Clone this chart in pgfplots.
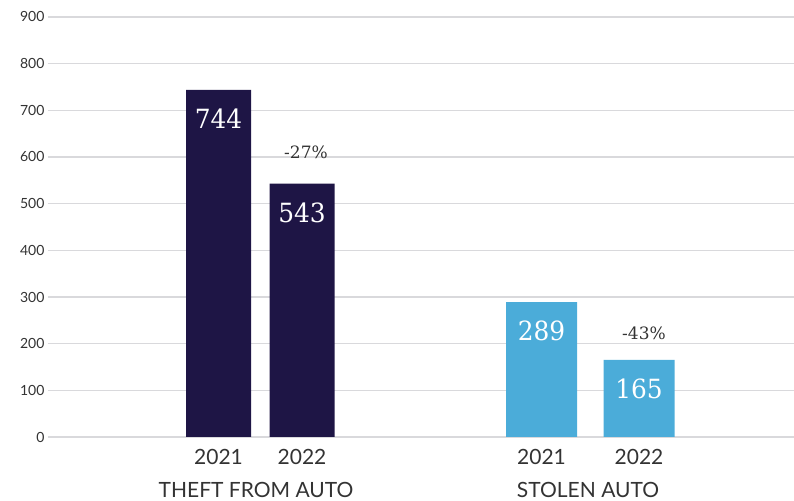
\documentclass[border=0pt]{standalone}
\usepackage{pgfplots}
\pgfplotsset{compat=1.18}
\usepackage{graphicx}
\usepackage{fontspec}
\setmainfont{Lato}
\newfontfamily\slabfont{DejaVu Serif}
\definecolor{navy}{HTML}{1E1545}
\definecolor{lblue}{HTML}{4BACD9}
\definecolor{gridc}{HTML}{D9D9DC}
\definecolor{txt}{HTML}{333333}
\begin{document}
\begin{tikzpicture}
\begin{axis}[
  x=1pt, y=0.46667pt,
  xmin=48, xmax=794, ymin=0, ymax=900,
  axis line style={draw=none},
  tick style={draw=none},
  ytick={0,100,...,900},
  ymajorgrids,
  grid style={gridc, line width=1.3pt},
  xtick={218.5,302,541.5,639},
  xticklabels={2021,2022,2021,2022},
  x tick label style={font=\fontsize{21}{24}\selectfont, text=txt, yshift=-9pt},
  y tick label style={font=\fontsize{14}{16}\selectfont, text=txt},
  /pgf/number format/assume math mode=true,
  scaled y ticks=false,
  clip=false,
]
\addplot[ybar, bar width=65, fill=navy, draw=none,
  nodes near coords={\scalebox{1.08}[1.15]{\pgfmathprintnumber{\pgfplotspointmeta}}},
  nodes near coords style={font=\slabfont\fontsize{23}{23}\selectfont, text=white, anchor=center, yshift=-29pt}]
  coordinates {(218.5,744) (302,543)};
\addplot[ybar, bar width=71, fill=lblue, draw=none,
  nodes near coords={\scalebox{1.08}[1.15]{\pgfmathprintnumber{\pgfplotspointmeta}}},
  nodes near coords style={font=\slabfont\fontsize{23}{23}\selectfont, text=white, anchor=center, yshift=-29pt}]
  coordinates {(541.5,289) (639,165)};
\addplot[draw=none, mark=none, nodes near coords, point meta=explicit symbolic,
  nodes near coords style={font=\slabfont\fontsize{17}{17}\selectfont, text=txt, anchor=center}]
  coordinates {(306,611) [-27\%] (644,223) [-43\%]};
\node[font=\fontsize{21}{24}\selectfont, text=txt] at (axis cs:256,-114) {THEFT FROM AUTO};
\node[font=\fontsize{21}{24}\selectfont, text=txt] at (axis cs:588,-114) {STOLEN AUTO};
\coordinate (bl) at (axis cs:0,-137.1);
\coordinate (tr) at (axis cs:794,936.4);
\end{axis}
\pgfresetboundingbox
\path (bl) rectangle (tr);
\end{tikzpicture}
\end{document}
